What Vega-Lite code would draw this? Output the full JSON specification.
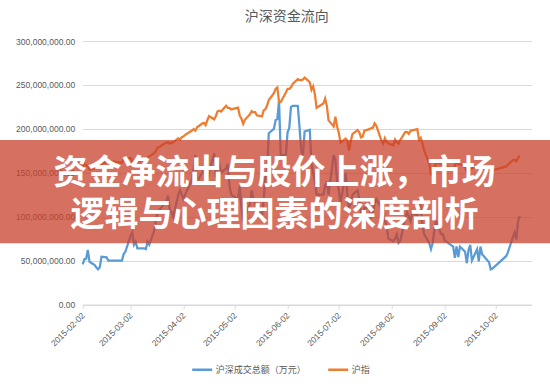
{
"$schema": "https://vega.github.io/schema/vega-lite/v6.json",
"autosize": "none",
"width": 449,
"height": 263.5,
"padding": {"left": 82.7, "top": 41, "right": 18.3, "bottom": 79.5},
"background": "white",
"config": {"view": {"stroke": null}},
"title": {"text": "沪深资金流向", "fontSize": 14, "font": "Noto Sans CJK SC", "fontWeight": "normal", "color": "#595959", "anchor": "middle", "frame": "bounds", "offset": -1, "baseline": "bottom"},
"datasets": {"main": [
{"date":"2015-02-02","沪深成交总额（万元）":45800000,"沪指":156415000},
{"date":"2015-02-03","沪深成交总额（万元）":51500000,"沪指":160245500},
{"date":"2015-02-04","沪深成交总额（万元）":52000000,"沪指":158706500},
{"date":"2015-02-05","沪深成交总额（万元）":62000000,"沪指":156826500},
{"date":"2015-02-06","沪深成交总额（万元）":48700000,"沪指":153795500},
{"date":"2015-02-09","沪深成交总额（万元）":45000000,"沪指":154756000},
{"date":"2015-02-10","沪深成交总额（万元）":42000000,"沪指":157079500},
{"date":"2015-02-11","沪深成交总额（万元）":40000000,"沪指":157885000},
{"date":"2015-02-12","沪深成交总额（万元）":42300000,"沪指":158671000},
{"date":"2015-02-13","沪深成交总额（万元）":54400000,"沪指":160191500},
{"date":"2015-02-16","沪深成交总额（万元）":53700000,"沪指":162345500},
{"date":"2015-02-17","沪深成交总额（万元）":50000000,"沪指":163435500},
{"date":"2015-02-25","沪深成交总额（万元）":50000000,"沪指":161442000},
{"date":"2015-02-26","沪深成交总额（万元）":57500000,"沪指":164918000},
{"date":"2015-02-27","沪深成交总额（万元）":60000000,"沪指":165515000},
{"date":"2015-03-02","沪深成交总额（万元）":78000000,"沪指":166814000},
{"date":"2015-03-03","沪深成交总额（万元）":82000000,"沪指":163152500},
{"date":"2015-03-04","沪深成交总额（万元）":68000000,"沪指":163976500},
{"date":"2015-03-05","沪深成交总额（万元）":71500000,"沪指":162424000},
{"date":"2015-03-06","沪深成交总额（万元）":64000000,"沪指":162059500},
{"date":"2015-03-09","沪深成交总额（万元）":64000000,"沪指":165120500},
{"date":"2015-03-10","沪深成交总额（万元）":64000000,"沪指":164303500},
{"date":"2015-03-11","沪深成交总额（万元）":63000000,"沪指":164545000},
{"date":"2015-03-12","沪深成交总额（万元）":71500000,"沪指":167466000},
{"date":"2015-03-13","沪深成交总额（万元）":68000000,"沪指":168645500},
{"date":"2015-03-16","沪深成交总额（万元）":85000000,"沪指":172465000},
{"date":"2015-03-17","沪深成交总额（万元）":98000000,"沪指":175142500},
{"date":"2015-03-18","沪深成交总额（万元）":105000000,"沪指":178865000},
{"date":"2015-03-19","沪深成交总额（万元）":108000000,"沪指":179113500},
{"date":"2015-03-20","沪深成交总额（万元）":110000000,"沪指":180866000},
{"date":"2015-03-23","沪深成交总额（万元）":118000000,"沪指":184386500},
{"date":"2015-03-24","沪深成交总额（万元）":124000000,"沪指":184570500},
{"date":"2015-03-25","沪深成交总额（万元）":108000000,"沪指":183036500},
{"date":"2015-03-26","沪深成交总额（万元）":105000000,"沪指":184104500},
{"date":"2015-03-27","沪深成交总额（万元）":100000000,"沪指":184555000},
{"date":"2015-03-30","沪深成交总额（万元）":125000000,"沪指":189328500},
{"date":"2015-03-31","沪深成交总额（万元）":130000000,"沪指":187395000},
{"date":"2015-04-01","沪深成交总额（万元）":125000000,"沪指":190514500},
{"date":"2015-04-02","沪深成交总额（万元）":120000000,"沪指":191289000},
{"date":"2015-04-03","沪深成交总额（万元）":125000000,"沪指":193196500},
{"date":"2015-04-07","沪深成交总额（万元）":142000000,"沪指":198069000},
{"date":"2015-04-08","沪深成交总额（万元）":155000000,"沪指":199740500},
{"date":"2015-04-09","沪深成交总额（万元）":170000000,"沪指":197876500},
{"date":"2015-04-10","沪深成交总额（万元）":140000000,"沪指":201715500},
{"date":"2015-04-13","沪深成交总额（万元）":150000000,"沪指":206085500},
{"date":"2015-04-14","沪深成交总额（万元）":155000000,"沪指":206778000},
{"date":"2015-04-15","沪深成交总额（万元）":150000000,"沪指":204208000},
{"date":"2015-04-16","沪深成交总额（万元）":140000000,"沪指":209741000},
{"date":"2015-04-17","沪深成交总额（万元）":150000000,"沪指":214365000},
{"date":"2015-04-20","沪深成交总额（万元）":172000000,"沪指":210854000},
{"date":"2015-04-21","沪深成交总额（万元）":145000000,"沪指":214681000},
{"date":"2015-04-22","沪深成交总额（万元）":155000000,"沪指":219924500},
{"date":"2015-04-23","沪深成交总额（万元）":160000000,"沪指":220725500},
{"date":"2015-04-24","沪深成交总额（万元）":150000000,"沪指":219684500},
{"date":"2015-04-27","沪深成交总额（万元）":155000000,"沪指":226370000},
{"date":"2015-04-28","沪深成交总额（万元）":160000000,"沪指":223810500},
{"date":"2015-04-29","沪深成交总额（万元）":135000000,"沪指":223831000},
{"date":"2015-04-30","沪深成交总额（万元）":125000000,"沪指":222083000},
{"date":"2015-05-04","沪深成交总额（万元）":120000000,"沪指":224023000},
{"date":"2015-05-05","沪深成交总额（万元）":135000000,"沪指":214935500},
{"date":"2015-05-06","沪深成交总额（万元）":110000000,"沪指":211463500},
{"date":"2015-05-07","沪深成交总额（万元）":95000000,"沪指":205610500},
{"date":"2015-05-08","沪深成交总额（万元）":100000000,"沪指":210296000},
{"date":"2015-05-11","沪深成交总额（万元）":115000000,"沪指":216679000},
{"date":"2015-05-12","沪深成交总额（万元）":130000000,"沪指":220061000},
{"date":"2015-05-13","沪深成交总额（万元）":120000000,"沪指":218788000},
{"date":"2015-05-14","沪深成交总额（万元）":115000000,"沪指":218915500},
{"date":"2015-05-15","沪深成交总额（万元）":110000000,"沪指":215434500},
{"date":"2015-05-18","沪深成交总额（万元）":100000000,"沪指":214174500},
{"date":"2015-05-19","沪深成交总额（万元）":120000000,"沪指":220877500},
{"date":"2015-05-20","沪深成交总额（万元）":145000000,"沪指":222314500},
{"date":"2015-05-21","沪深成交总额（万元）":150000000,"沪指":226471000},
{"date":"2015-05-22","沪深成交总额（万元）":195000000,"沪指":232880000},
{"date":"2015-05-25","沪深成交总额（万元）":200000000,"沪指":240690000},
{"date":"2015-05-26","沪深成交总额（万元）":210000000,"沪指":245545000},
{"date":"2015-05-27","沪深成交总额（万元）":211000000,"沪指":247085500},
{"date":"2015-05-28","沪深成交总额（万元）":232000000,"沪指":231013500},
{"date":"2015-05-29","沪深成交总额（万元）":170000000,"沪指":230587000},
{"date":"2015-06-01","沪深成交总额（万元）":170000000,"沪指":241437000},
{"date":"2015-06-02","沪深成交总额（万元）":196000000,"沪指":245526500},
{"date":"2015-06-03","沪深成交总额（万元）":201000000,"沪指":245499000},
{"date":"2015-06-04","沪深成交总额（万元）":225000000,"沪指":247355000},
{"date":"2015-06-05","沪深成交总额（万元）":226000000,"沪指":251155000},
{"date":"2015-06-08","沪深成交总额（万元）":226000000,"沪指":256594000},
{"date":"2015-06-09","沪深成交总额（万元）":202000000,"沪指":255676500},
{"date":"2015-06-10","沪深成交总额（万元）":175000000,"沪指":255302000},
{"date":"2015-06-11","沪深成交总额（万元）":170000000,"沪指":256079500},
{"date":"2015-06-12","沪深成交总额（万元）":197000000,"沪指":258317500},
{"date":"2015-06-15","沪深成交总额（万元）":199000000,"沪指":253149500},
{"date":"2015-06-16","沪深成交总额（万元）":160000000,"沪指":244371500},
{"date":"2015-06-17","沪深成交总额（万元）":150000000,"沪指":248395000},
{"date":"2015-06-18","沪深成交总额（万元）":140000000,"沪指":239268000},
{"date":"2015-06-19","沪深成交总额（万元）":125000000,"沪指":223918000},
{"date":"2015-06-23","沪深成交总额（万元）":125000000,"沪指":228824500},
{"date":"2015-06-24","沪深成交总额（万元）":135000000,"沪指":234507500},
{"date":"2015-06-25","沪深成交总额（万元）":140000000,"沪指":226389000},
{"date":"2015-06-26","沪深成交总额（万元）":125000000,"沪指":209643500},
{"date":"2015-06-29","沪深成交总额（万元）":170000000,"沪指":202651500},
{"date":"2015-06-30","沪深成交总额（万元）":165000000,"沪指":213861000},
{"date":"2015-07-01","沪深成交总额（万元）":140000000,"沪指":202685000},
{"date":"2015-07-02","沪深成交总额（万元）":130000000,"沪指":195638500},
{"date":"2015-07-03","沪深成交总额（万元）":115000000,"沪指":184346000},
{"date":"2015-07-06","沪深成交总额（万元）":150000000,"沪指":188795500},
{"date":"2015-07-07","沪深成交总额（万元）":125000000,"沪指":186356000},
{"date":"2015-07-08","沪深成交总额（万元）":110000000,"沪指":175359500},
{"date":"2015-07-09","沪深成交总额（万元）":115000000,"沪指":185466500},
{"date":"2015-07-10","沪深成交总额（万元）":125000000,"沪指":193890000},
{"date":"2015-07-13","沪深成交总额（万元）":130000000,"沪指":198519500},
{"date":"2015-07-14","沪深成交总额（万元）":120000000,"沪指":196224500},
{"date":"2015-07-15","沪深成交总额（万元）":105000000,"沪指":190285000},
{"date":"2015-07-16","沪深成交总额（万元）":95000000,"沪指":191159000},
{"date":"2015-07-17","沪深成交总额（万元）":110000000,"沪指":197867500},
{"date":"2015-07-20","沪深成交总额（万元）":110000000,"沪指":199605500},
{"date":"2015-07-21","沪深成交总额（万元）":100000000,"沪指":200883500},
{"date":"2015-07-22","沪深成交总额（万元）":105000000,"沪指":201302000},
{"date":"2015-07-23","沪深成交总额（万元）":115000000,"沪指":206196000},
{"date":"2015-07-24","沪深成交总额（万元）":120000000,"沪指":203545500},
{"date":"2015-07-27","沪深成交总额（万元）":110000000,"沪指":186278000},
{"date":"2015-07-28","沪深成交总额（万元）":115000000,"沪指":183150000},
{"date":"2015-07-29","沪深成交总额（万元）":95000000,"沪指":189458500},
{"date":"2015-07-30","沪深成交总额（万元）":90000000,"沪指":185288500},
{"date":"2015-07-31","沪深成交总额（万元）":75000000,"沪指":183186500},
{"date":"2015-08-03","沪深成交总额（万元）":72000000,"沪指":181145500},
{"date":"2015-08-04","沪深成交总额（万元）":75000000,"沪指":187827000},
{"date":"2015-08-05","沪深成交总额（万元）":80000000,"沪指":184728500},
{"date":"2015-08-06","沪深成交总额（万元）":70000000,"沪指":183077000},
{"date":"2015-08-07","沪深成交总额（万元）":72000000,"沪指":187210000},
{"date":"2015-08-10","沪深成交总额（万元）":100000000,"沪指":196421000},
{"date":"2015-08-11","沪深成交总额（万元）":105000000,"沪指":196395500},
{"date":"2015-08-12","沪深成交总额（万元）":100000000,"沪指":194316000},
{"date":"2015-08-13","沪深成交总额（万元）":95000000,"沪指":197728000},
{"date":"2015-08-14","沪深成交总额（万元）":105000000,"沪指":198266500},
{"date":"2015-08-17","沪深成交总额（万元）":100000000,"沪指":199683500},
{"date":"2015-08-18","沪深成交总额（万元）":120000000,"沪指":187408000},
{"date":"2015-08-19","沪深成交总额（万元）":110000000,"沪指":189705500},
{"date":"2015-08-20","沪深成交总额（万元）":90000000,"沪指":183214500},
{"date":"2015-08-21","沪深成交总额（万元）":80000000,"沪指":175387000},
{"date":"2015-08-24","沪深成交总额（万元）":70000000,"沪指":160495500},
{"date":"2015-08-25","沪深成交总额（万元）":63000000,"沪指":148248500},
{"date":"2015-08-26","沪深成交总额（万元）":70000000,"沪指":146364500},
{"date":"2015-08-27","沪深成交总额（万元）":85000000,"沪指":154179500},
{"date":"2015-08-28","沪深成交总额（万元）":95000000,"沪指":161617500},
{"date":"2015-08-31","沪深成交总额（万元）":80000000,"沪指":160299500},
{"date":"2015-09-01","沪深成交总额（万元）":80000000,"沪指":158331000},
{"date":"2015-09-02","沪深成交总额（万元）":73000000,"沪指":158008500},
{"date":"2015-09-07","沪深成交总额（万元）":66000000,"沪指":154021000},
{"date":"2015-09-08","沪深成交总额（万元）":53000000,"沪指":158522500},
{"date":"2015-09-09","沪深成交总额（万元）":66000000,"沪指":162154500},
{"date":"2015-09-10","沪深成交总额（万元）":54000000,"沪指":159894500},
{"date":"2015-09-11","沪深成交总额（万元）":66000000,"沪指":160011500},
{"date":"2015-09-14","沪深成交总额（万元）":60000000,"沪指":155740000},
{"date":"2015-09-15","沪深成交总额（万元）":47000000,"沪指":150258500},
{"date":"2015-09-16","沪深成交总额（万元）":62000000,"沪指":157613000},
{"date":"2015-09-17","沪深成交总额（万元）":68000000,"沪指":154303000},
{"date":"2015-09-18","沪深成交总额（万元）":50000000,"沪指":154896000},
{"date":"2015-09-21","沪深成交总额（万元）":63000000,"沪指":157827000},
{"date":"2015-09-22","沪深成交总额（万元）":49000000,"沪指":159281000},
{"date":"2015-09-23","沪深成交总额（万元）":66000000,"沪指":155794500},
{"date":"2015-09-24","沪深成交总额（万元）":57000000,"沪指":157134500},
{"date":"2015-09-25","沪深成交总额（万元）":55000000,"沪指":154617500},
{"date":"2015-09-28","沪深成交总额（万元）":48000000,"沪指":155038000},
{"date":"2015-09-29","沪深成交总额（万元）":40000000,"沪指":151907000},
{"date":"2015-09-30","沪深成交总额（万元）":41000000,"沪指":152639000},
{"date":"2015-10-08","沪深成交总额（万元）":55000000,"沪指":157168000},
{"date":"2015-10-09","沪深成交总额（万元）":59000000,"沪指":159157500},
{"date":"2015-10-12","沪深成交总额（万元）":77000000,"沪指":164383000},
{"date":"2015-10-13","沪深成交总额（万元）":82000000,"沪指":164661500},
{"date":"2015-10-14","沪深成交总额（万元）":74000000,"沪指":163122000},
{"date":"2015-10-15","沪深成交总额（万元）":95000000,"沪指":166903500},
{"date":"2015-10-16","沪深成交总额（万元）":101000000,"沪指":169567500}
]},
"layer": [
{
"data": {"name": "main"},
"transform": [{"fold": ["沪深成交总额（万元）", "沪指"], "as": ["series", "value"]}],
"mark": {"type": "line", "strokeWidth": 2.25},
"encoding": {
"x": {"field": "date", "type": "temporal",
"scale": {"type": "utc", "domain": [{"year": 2015, "month": 2, "date": 2, "utc": true}, {"year": 2015, "month": 10, "date": 23, "utc": true}]},
"axis": {"title": null, "format": "%Y-%m-%d", "labelAngle": -45, "labelAlign": "right", "labelBaseline": "middle", "labelFont": "Liberation Sans", "labelFontSize": 8.5, "labelColor": "#595959", "labelPadding": 5, "labelOverlap": false, "labelBound": false, "labelFlush": false, "grid": false, "domainColor": "#d9d9d9", "tickColor": "#d9d9d9", "tickSize": 4,
"values": [{"year": 2015, "month": 2, "date": 2, "utc": true}, {"year": 2015, "month": 3, "date": 2, "utc": true}, {"year": 2015, "month": 4, "date": 2, "utc": true}, {"year": 2015, "month": 5, "date": 2, "utc": true}, {"year": 2015, "month": 6, "date": 2, "utc": true}, {"year": 2015, "month": 7, "date": 2, "utc": true}, {"year": 2015, "month": 8, "date": 2, "utc": true}, {"year": 2015, "month": 9, "date": 2, "utc": true}, {"year": 2015, "month": 10, "date": 2, "utc": true}]}},
"y": {"field": "value", "type": "quantitative",
"scale": {"domain": [0, 300000000]},
"axis": {"title": null, "values": [0, 50000000, 100000000, 150000000, 200000000, 250000000, 300000000], "format": ",.2f", "labelFont": "Liberation Sans", "labelFontSize": 8.5, "labelColor": "#595959", "labelPadding": 8, "domain": false, "ticks": false, "gridColor": "#d9d9d9", "gridWidth": 1}},
"color": {"field": "series", "type": "nominal",
"scale": {"domain": ["沪深成交总额（万元）", "沪指"], "range": ["#5B9BD5", "#ED7D31"]},
"legend": {"title": null, "orient": "none", "legendX": 108, "legendY": 317, "direction": "horizontal", "symbolType": "stroke", "symbolStrokeWidth": 2.5, "symbolSize": 400, "labelFont": "Noto Sans CJK SC", "labelFontSize": 9, "labelColor": "#595959", "labelOffset": 2, "columnPadding": 16, "padding": 0}}
}
},
{
"data": {"values": [{}]},
"mark": {"type": "rect", "color": "#c8402c", "opacity": 0.75},
"encoding": {
"x": {"datum": {"year": 2014, "month": 11, "date": 1, "utc": true}, "type": "temporal"},
"x2": {"datum": {"year": 2015, "month": 12, "date": 31, "utc": true}},
"y": {"datum": 187200000, "type": "quantitative"},
"y2": {"datum": 69700000}
}
},
{
"data": {"values": [{}]},
"mark": {"type": "text", "text": ["资金净流出与股价上涨，市场", "逻辑与心理因素的深度剖析"], "font": "Noto Sans CJK SC", "fontWeight": "bold", "fontSize": 34, "color": "white", "lineHeight": 41.5, "align": "center", "baseline": "middle"},
"encoding": {
"x": {"datum": {"year": 2015, "month": 5, "date": 25, "hours": 9, "utc": true}, "type": "temporal"},
"y": {"datum": 148500000, "type": "quantitative"}
}
}
]
}
